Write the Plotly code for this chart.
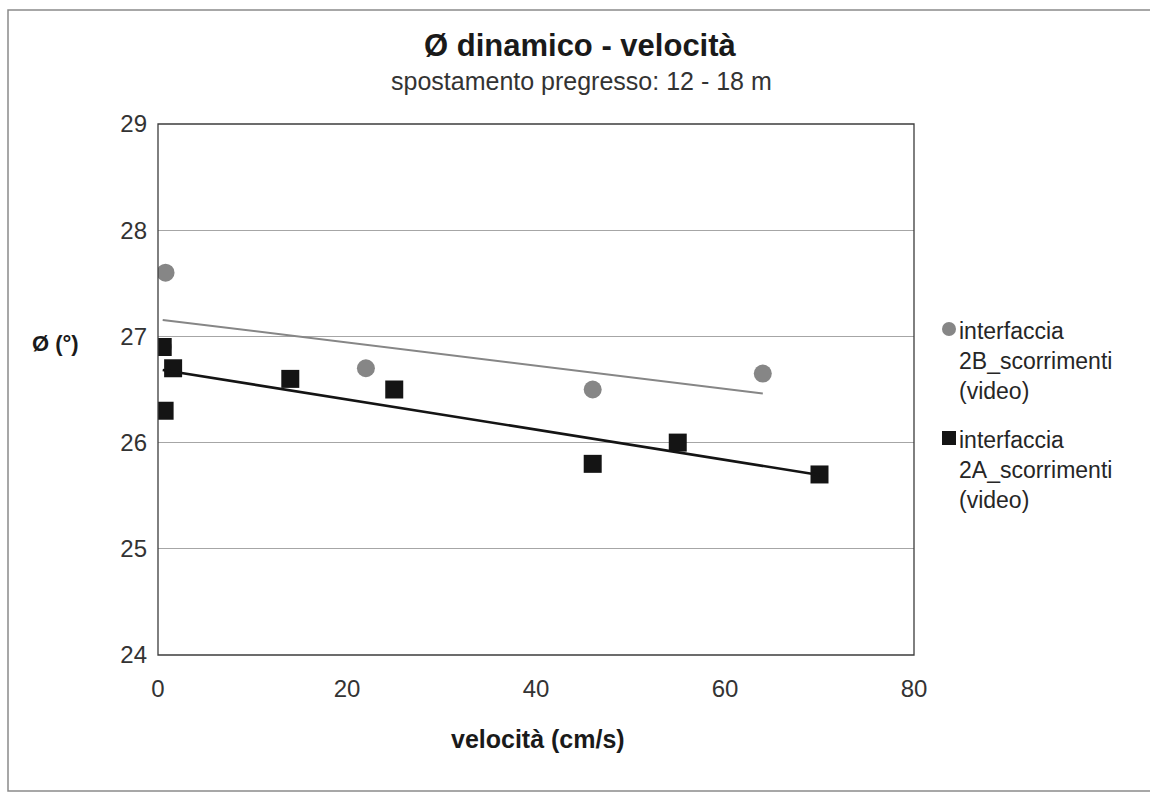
import numpy as np
import plotly.graph_objects as go

# Interface 2B sliding tests (video) - velocity [cm/s] vs dynamic friction angle [deg]
vel_2b = [0.5, 0.8, 22, 46, 64]
phi_2b = [26.9, 27.6, 26.7, 26.5, 26.65]

# Interface 2A sliding tests (video)
vel_2a = [0.5, 1.6, 0.7, 14, 25, 46, 55, 70]
phi_2a = [26.9, 26.7, 26.3, 26.6, 26.5, 25.8, 26.0, 25.7]

x_ticks = [0, 20, 40, 60, 80]
y_ticks = [24, 25, 26, 27, 28, 29]

legend_2b = ["interfaccia", "2B_scorrimenti", "(video)"]
legend_2a = ["interfaccia", "2A_scorrimenti", "(video)"]

FONT = "Liberation Sans, Arial, sans-serif"
GRAY = "#868686"
BLACK = "#141414"

W, H = 1150, 797
ML, MR, MT, MB = 158, 236, 124, 142
PW, PH = W - ML - MR, H - MT - MB


def px(x):
    return (x - ML) / PW


def py(y):
    return (H - MB - y) / PH


def linear_trend(xs, ys):
    k, q = np.polyfit(xs, ys, 1)
    xe = np.array([min(xs), max(xs)])
    return xe, k * xe + q


fig = go.Figure()

tx, ty = linear_trend(vel_2b, phi_2b)
fig.add_trace(go.Scatter(x=vel_2b, y=phi_2b, mode="markers", showlegend=False,
                         marker=dict(symbol="circle", size=18, color=GRAY)))
fig.add_trace(go.Scatter(x=tx, y=ty, mode="lines", showlegend=False,
                         line=dict(color=GRAY, width=2)))

tx, ty = linear_trend(vel_2a, phi_2a)
fig.add_trace(go.Scatter(x=vel_2a, y=phi_2a, mode="markers", showlegend=False,
                         marker=dict(symbol="square", size=18, color=BLACK)))
fig.add_trace(go.Scatter(x=tx, y=ty, mode="lines", showlegend=False,
                         line=dict(color=BLACK, width=2.6)))

annotations = [
    dict(text="<b>Ø dinamico - velocità</b>", x=px(580), y=py(45),
         font=dict(size=31, color="#1a1a1a")),
    dict(text="spostamento pregresso: 12 - 18 m", x=px(581), y=py(81),
         font=dict(size=25, color="#333333")),
    dict(text="<b>Ø (°)</b>", x=px(55), y=py(343),
         font=dict(size=22, color="#1a1a1a")),
    dict(text="<b>velocità (cm/s)</b>", x=px(538), y=py(739),
         font=dict(size=25, color="#1a1a1a")),
]
for ann in annotations:
    ann.update(xref="paper", yref="paper", showarrow=False,
               xanchor="center", yanchor="middle")
    ann["font"]["family"] = FONT

for lines, y0 in ((legend_2b, 331), (legend_2a, 440)):
    for i, t in enumerate(lines):
        annotations.append(dict(text=t, x=px(957), y=py(y0 + 30 * i),
                                xref="paper", yref="paper", showarrow=False,
                                xanchor="left", yanchor="middle",
                                font=dict(size=23, color="#262626", family=FONT)))

shapes = [
    # outer chart frame
    dict(type="rect", xref="paper", yref="paper",
         x0=px(8), x1=px(1160), y0=py(791), y1=py(10),
         line=dict(color="#8a8a8a", width=1.5), layer="below"),
    # plot frame
    dict(type="rect", xref="paper", yref="paper", x0=0, x1=1, y0=0, y1=1,
         line=dict(color="#3c3c3c", width=1.3)),
    # legend keys
    dict(type="circle", xref="paper", yref="paper",
         x0=px(942), x1=px(956), y0=py(336), y1=py(322),
         fillcolor=GRAY, line=dict(width=0)),
    dict(type="rect", xref="paper", yref="paper",
         x0=px(942), x1=px(956), y0=py(445), y1=py(431),
         fillcolor=BLACK, line=dict(width=0)),
]

fig.update_layout(
    width=W, height=H,
    margin=dict(l=ML, r=MR, t=MT, b=MB),
    paper_bgcolor="white", plot_bgcolor="white",
    font=dict(family=FONT, size=24, color="#333333"),
    showlegend=False,
    annotations=annotations,
    shapes=shapes,
    xaxis=dict(range=[0, 80], tickvals=x_ticks, showgrid=False, zeroline=False,
               showline=False, ticks="", ticklabelstandoff=17,
               tickfont=dict(size=24, color="#333333")),
    yaxis=dict(range=[24, 29], tickvals=y_ticks, showgrid=True,
               gridcolor="#a6a6a6", gridwidth=1, zeroline=False,
               showline=False, ticks="", ticklabelstandoff=10,
               tickfont=dict(size=24, color="#333333")),
)

fig.write_html("out.html")
